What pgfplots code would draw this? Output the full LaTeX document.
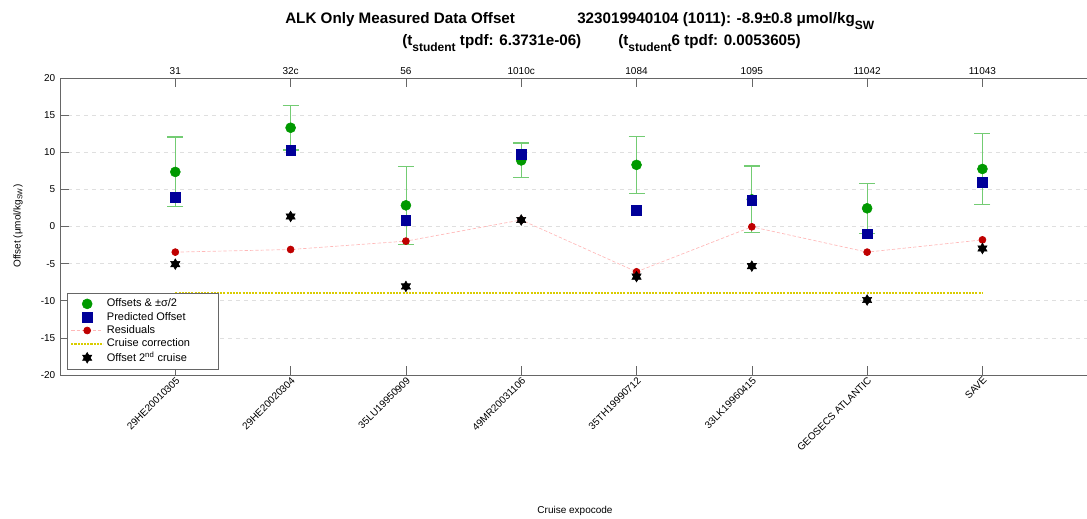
\documentclass[border=0pt]{standalone}
\usepackage{fontspec}
\setmainfont{Liberation Sans}
\usepackage{pgfplots}
\usepackage{pgfplotstable}
\pgfplotsset{compat=1.18}

\definecolor{mgreen}{rgb}{0,0.6,0}
\definecolor{egreen}{rgb}{0.45,0.8,0.45}
\definecolor{mblue}{rgb}{0,0,0.6}
\definecolor{mred}{rgb}{0.75,0,0}
\definecolor{lpink}{rgb}{1,0.72,0.72}
\definecolor{myellow}{rgb}{0.85,0.8,0}
\definecolor{axgray}{rgb}{0.4,0.4,0.4}

\newcommand{\tsub}[1]{\raisebox{-3.8pt}{\fontsize{9}{10}\selectfont #1}}

\pgfdeclareplotmark{hexstar}{%
 \pgfpathmoveto{\pgfqpointpolar{90}{\pgfplotmarksize}}%
 \pgfpathlineto{\pgfqpointpolar{210}{\pgfplotmarksize}}%
 \pgfpathlineto{\pgfqpointpolar{330}{\pgfplotmarksize}}%
 \pgfpathclose
 \pgfpathmoveto{\pgfqpointpolar{270}{\pgfplotmarksize}}%
 \pgfpathlineto{\pgfqpointpolar{30}{\pgfplotmarksize}}%
 \pgfpathlineto{\pgfqpointpolar{150}{\pgfplotmarksize}}%
 \pgfpathclose
 \pgfusepathqfillstroke}

\pgfplotstableread{
x off err pred res sec
1 7.35 4.70 3.90 -3.45 -5.07
2 13.30 3.00 10.25 -3.10 1.35
3 2.85 5.25 0.85 -1.97 -8.07
4 8.90 2.35 9.70 0.88 0.88
5 8.30 3.80 2.15 -6.10 -6.75
6 3.65 4.50 3.55 -0.04 -5.34
7 2.45 3.40 -0.99 -3.45 -9.90
8 7.75 4.77 5.96 -1.80 -2.96
}\data

\pgfplotstableread{
x y
1 -8.9
8 -8.9
}\corr

\begin{document}
\begin{tikzpicture}
\path[use as bounding box] (0,0) rectangle (815.25pt,388.5pt);
\pgfplotsset{
  legend image code/.code={\draw[mark repeat=2,mark phase=2,#1] plot coordinates {(0pt,0pt) (12pt,0pt) (24pt,0pt)};},
}
\begin{axis}[
  at={(45pt,107.25pt)}, anchor=south west, scale only axis,
  width=770.25pt, height=222.75pt,
  xmin=0, xmax=8.907, ymin=-20, ymax=20,
  axis x line*=bottom, axis y line*=left,
  axis line style={axgray, line width=0.6pt},
  tick style={axgray, line width=0.5pt},
  tick align=inside, major tick length=7pt,
  xtick={1,...,8},
  xticklabels={29HE20010305,29HE20020304,35LU19950909,49MR20031106,35TH19990712,33LK19960415,GEOSECS ATLANTIC,SAVE},
  xticklabel style={rotate=45, anchor=north east, font=\fontsize{7.5}{9}\selectfont, inner sep=0.5pt},
  ytick={-20,-15,...,20},
  yticklabels={-20,-15,-10,-5,0,5,10,15,20},
  yticklabel style={font=\fontsize{7.5}{9}\selectfont},
  ymajorgrids, grid style={dashed, gray!25, line width=0.4pt},
  legend style={at={(0.007,0.02)}, anchor=south west, draw=axgray, fill=white,
    font=\fontsize{8.25}{10}\selectfont, row sep=-1.5pt, inner sep=2pt},
  legend cell align=left,
]
\addplot[only marks, mark=*, mark size=3.75pt, color=mgreen,
  error bars/.cd, y dir=both, y explicit,
  error bar style={egreen, line width=0.6pt},
  error mark options={rotate=90, egreen, mark size=6pt, line width=0.8pt}]
  table[x=x, y=off, y error=err]{\data};
\addlegendentry{Offsets \& ±σ/2}
\addplot[only marks, mark=square*, mark size=3.6pt, color=mblue]
  table[x=x, y=pred]{\data};
\addlegendentry{Predicted Offset}
\addplot[lpink, dash pattern=on 2.5pt off 1.5pt, line width=0.5pt, mark=*, mark size=2.6pt,
  mark options={solid, fill=mred, draw=mred}]
  table[x=x, y=res]{\data};
\addlegendentry{Residuals}
\addplot[myellow, line width=1.6pt, dash pattern=on 1.6pt off 0.8pt]
  table[x=x, y=y]{\corr};
\addlegendentry{Cruise correction\hspace*{17pt}}
\addplot[only marks, mark=hexstar, mark size=4pt, black]
  table[x=x, y=sec]{\data};
\addlegendentry{Offset 2\textsuperscript{nd} cruise}
\end{axis}
\begin{axis}[
  at={(45pt,107.25pt)}, anchor=south west, scale only axis,
  width=770.25pt, height=222.75pt,
  xmin=0, xmax=8.907, ymin=-20, ymax=20,
  axis x line*=top, hide y axis,
  axis line style={axgray, line width=0.6pt},
  tick style={axgray, line width=0.5pt},
  tick align=inside, major tick length=7pt,
  xtick={1,...,8},
  xticklabels={31,32c,56,1010c,1084,1095,11042,11043},
  xticklabel style={font=\fontsize{7.5}{9}\selectfont, inner sep=2pt},
]
\end{axis}
\node[anchor=base west, inner sep=0pt, font=\bfseries\fontsize{11.4}{13}\selectfont] at (213.75pt,370.5pt) {ALK Only Measured Data Offset};
\node[anchor=base west, inner sep=0pt, font=\bfseries\fontsize{11.4}{13}\selectfont] at (432.75pt,370.5pt) {323019940104 (1011): -8.9±0.8 μmol/kg\tsub{SW}};
\node[anchor=base west, inner sep=0pt, font=\bfseries\fontsize{11.4}{13}\selectfont] at (301.5pt,354pt) {(t\tsub{student} tpdf: 6.3731e-06)};
\node[anchor=base west, inner sep=0pt, font=\bfseries\fontsize{11.4}{13}\selectfont] at (463.5pt,354pt) {(t\tsub{student}6 tpdf: 0.0053605)};
\node[anchor=center, rotate=90, font=\fontsize{7.5}{9}\selectfont] at (13.5pt,219pt) {Offset (μmol/kg\textsubscript{SW})};
\node[anchor=center, font=\fontsize{7.5}{9}\selectfont] at (431.25pt,5.25pt) {Cruise expocode};
\end{tikzpicture}
\end{document}
